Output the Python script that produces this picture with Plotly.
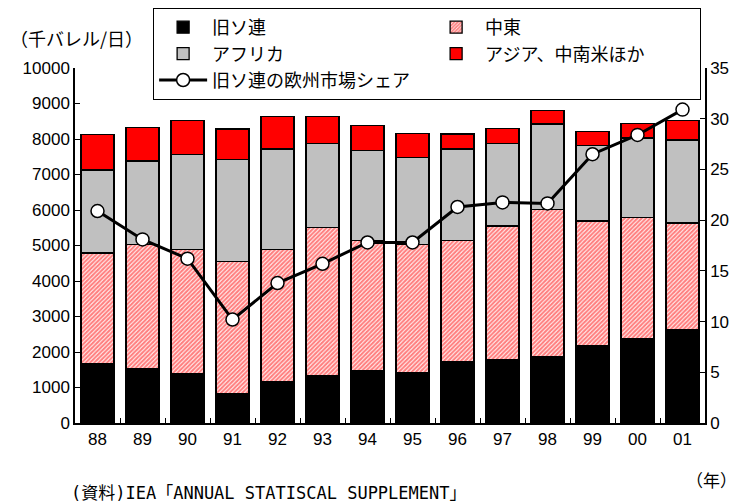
import plotly.graph_objects as go

years = ["88", "89", "90", "91", "92", "93", "94", "95", "96", "97", "98", "99", "00", "01"]
former_ussr = [1660, 1530, 1380, 840, 1160, 1330, 1470, 1430, 1730, 1780, 1870, 2170, 2380, 2630]
middle_east = [3130, 3500, 3510, 3700, 3720, 4170, 3670, 3600, 3410, 3770, 4150, 3520, 3410, 3000]
africa = [2340, 2350, 2680, 2880, 2840, 2380, 2530, 2440, 2580, 2330, 2400, 2130, 2240, 2340]
asia_latam = [1000, 940, 960, 860, 910, 750, 710, 680, 420, 410, 390, 400, 410, 550]
eu_share = [20.9, 18.1, 16.2, 10.2, 13.8, 15.7, 17.8, 17.8, 21.3, 21.75, 21.65, 26.5, 28.4, 30.9]

FONT = "Liberation Sans, Noto Sans CJK JP, sans-serif"
JP = "Noto Sans CJK JP, sans-serif"
outline = dict(color="black", width=1.3)

fig = go.Figure()
fig.add_trace(go.Bar(x=years, y=former_ussr, name="旧ソ連",
                     marker=dict(color="#000000", line=outline)))
fig.add_trace(go.Bar(x=years, y=middle_east, name="中東",
                     marker=dict(color="#ff8080", line=outline,
                                 pattern=dict(shape="/", fgcolor="#ff0000", bgcolor="#ffffff",
                                              size=3, solidity=0.7))))
fig.add_trace(go.Bar(x=years, y=africa, name="アフリカ",
                     marker=dict(color="#c0c0c0", line=outline)))
fig.add_trace(go.Bar(x=years, y=asia_latam, name="アジア、中南米ほか",
                     marker=dict(color="#ff0000", line=outline)))
fig.add_trace(go.Scatter(x=years, y=eu_share, name="旧ソ連の欧州市場シェア", yaxis="y2",
                         mode="lines+markers",
                         line=dict(color="black", width=3),
                         marker=dict(symbol="circle", size=13, color="white",
                                     line=dict(color="black", width=1.5))))

# page body has an 8px margin; figure is sized so it ends at the window edge
DOM_TOP = (415 - 60) / 415

fig.update_layout(
    width=734, height=495,
    margin=dict(l=67, r=37, t=0, b=80, autoexpand=False),
    paper_bgcolor="white", plot_bgcolor="white",
    barmode="stack", bargap=0.27,
    font=dict(family=FONT, size=16, color="black"),
    showlegend=True,
    legend=dict(orientation="h", x=0.124, xanchor="left", y=1.0, yanchor="top",
                entrywidth=210, entrywidthmode="pixels", itemwidth=48, traceorder="normal",
                bordercolor="black", borderwidth=1, bgcolor="white",
                font=dict(family=JP, size=18)),
    xaxis=dict(type="category", range=[-0.5, len(years) - 0.5], showline=True,
               linecolor="black", linewidth=1.5,
               ticks="inside", tickson="boundaries", ticklen=5, tickcolor="black",
               showgrid=False, tickfont=dict(size=17), automargin=False),
    yaxis=dict(domain=[0, DOM_TOP], range=[0, 10000], dtick=1000, tickformat="d", showline=True,
               linecolor="black", linewidth=1.5,
               ticks="inside", ticklen=5, tickcolor="black", showgrid=False, zeroline=False,
               tickfont=dict(size=17), automargin=False),
    yaxis2=dict(domain=[0, DOM_TOP], range=[0, 35], dtick=5, overlaying="y", side="right",
                showline=True, linecolor="black", linewidth=1.5, ticks="inside", ticklen=5,
                tickcolor="black", showgrid=False, zeroline=False, tickfont=dict(size=17),
                automargin=False),
    annotations=[
        dict(text="（千バレル/日）", xref="paper", yref="paper", x=-0.1063, y=0.9277,
             xanchor="left", yanchor="middle", showarrow=False, font=dict(family=JP, size=18)),
        dict(text="（年）", xref="paper", yref="paper", x=1.011, y=-0.1373,
             xanchor="center", yanchor="middle", showarrow=False, font=dict(family=JP, size=17)),
        dict(text="(資料)IEA「ANNUAL STATISCAL SUPPLEMENT」", xref="paper", yref="paper",
             x=-0.01, y=-0.1687, xanchor="left", yanchor="middle", showarrow=False,
             font=dict(family="DejaVu Sans Mono, Noto Sans CJK JP, monospace", size=17)),
    ],
)

fig.write_html("out.html")
